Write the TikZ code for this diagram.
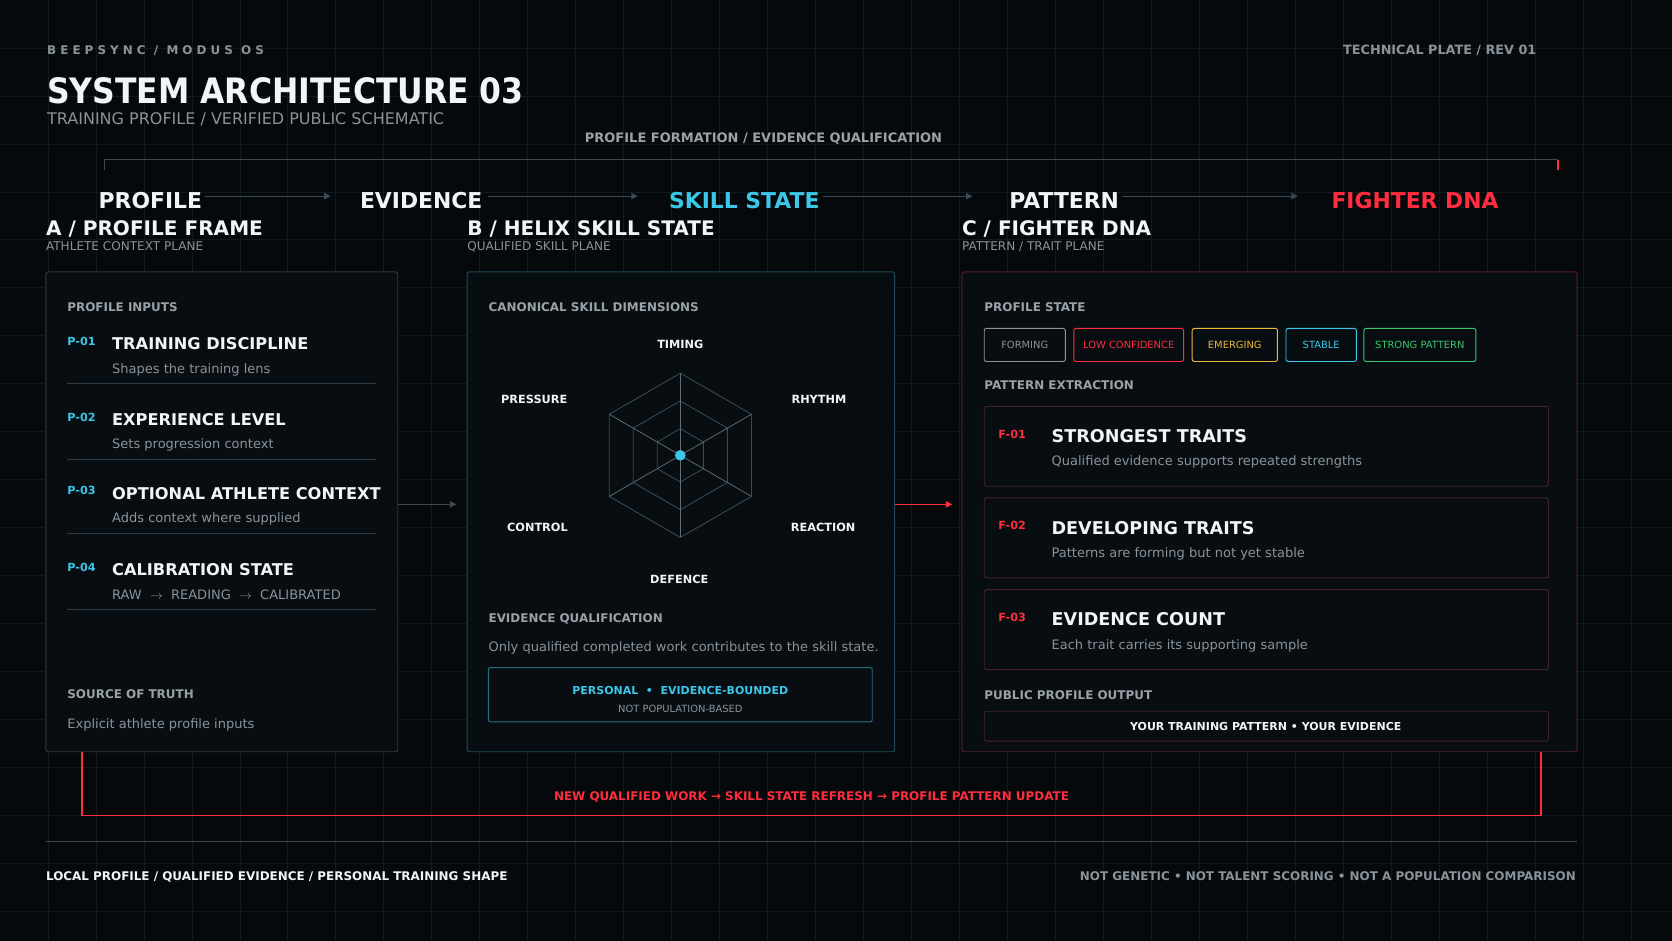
\documentclass[tikz,border=0pt]{standalone}
\usepackage{fontspec}
\setmainfont{DejaVu Sans}
\newfontfamily\condf{DejaVu Sans Condensed}
\usetikzlibrary{arrows.meta,calc}
\definecolor{bg}{HTML}{05090C}
\definecolor{gridc}{HTML}{0F1A20}
\definecolor{panel}{HTML}{070D11}
\definecolor{bordA}{HTML}{2C3B45}
\definecolor{bordB}{HTML}{1E4B57}
\definecolor{bordC}{HTML}{5A1E25}
\definecolor{boxC}{HTML}{43222A}
\definecolor{cyanc}{HTML}{3CC6E8}
\definecolor{redc}{HTML}{FF2D3D}
\definecolor{grayt}{HTML}{8A939A}
\definecolor{grayh}{HTML}{9AA2A8}
\definecolor{whitet}{HTML}{F2F4F5}
\definecolor{yelc}{HTML}{E8B83A}
\definecolor{grnc}{HTML}{3CC46A}
\definecolor{linec}{HTML}{3A4A54}
\newcommand{\fs}[1]{\fontsize{#1}{#1}\selectfont}
\begin{document}
\begin{tikzpicture}[x=1pt,y=-1pt,
 lbl/.style={anchor=base west,inner sep=0pt},
 hdr/.style={lbl,font=\fs{11.2}\bfseries,text=grayh},
 stage/.style={anchor=base,inner sep=0pt,font=\fs{20.5}\bfseries,text=whitet},
 sect/.style={lbl,font=\fs{18.8}\bfseries,text=whitet},
 sub/.style={lbl,font=\fs{11.3},text=grayt},
 pid/.style={lbl,font=\fs{10.5}\bfseries,text=cyanc},
 fid/.style={lbl,font=\fs{10.5}\bfseries,text=redc},
 ititle/.style={lbl,font=\fs{15.2}\bfseries,text=whitet},
 idesc/.style={lbl,font=\fs{12.2},text=grayt},
 axis/.style={anchor=base,inner sep=0pt,font=\fs{10.6}\bfseries,text=whitet},
 panelbox/.style={draw,fill=panel,rounded corners=2pt,line width=0.9pt},
 chip/.style={draw,rounded corners=2pt,line width=0.9pt,font=\fs{9.3},anchor=center,inner sep=0pt},
 flow/.style={draw=linec,line width=0.9pt,-{Triangle[length=6pt,width=6pt]}},
]
\fill[bg] (0,0) rectangle (1568,882);
\useasboundingbox (0,0) rectangle (1568,882);
\foreach \i in {45,90,...,1567} \draw[gridc,line width=0.8pt] (\i,0) -- (\i,882);
\foreach \j in {45,90,...,881} \draw[gridc,line width=0.8pt] (0,\j) -- (1568,\j);

% header
\node[lbl,font=\fs{11.2}\bfseries\addfontfeature{LetterSpace=34},text=grayt] (brand) at (44,51) {BEEPSYNC / MODUS OS};
\node[anchor=base east,inner sep=0pt,font=\fs{12}\bfseries,text=grayt] (plate) at (1441,51) {TECHNICAL PLATE / REV 01};
\node[lbl,font=\condf\fs{32.8}\bfseries,text=whitet] (title) at (44,97) {SYSTEM ARCHITECTURE 03};
\node[lbl,font=\fs{15},text=grayt] (subt) at (44,117) {TRAINING PROFILE / VERIFIED PUBLIC SCHEMATIC};
\node[anchor=base,inner sep=0pt,font=\fs{12.2}\bfseries,text=grayh] (pf) at (716,134) {PROFILE FORMATION / EVIDENCE QUALIFICATION};
\coordinate (bl) at (98,159); \coordinate (br) at (1461,159);
\draw[linec,line width=1pt] (bl) |- (1455,150) -- (1461,150);
\draw[redc,line width=1.2pt] (1461,150) -- (br);

% stages
\node[stage] (s1) at (141,196) {PROFILE};
\node[stage] (s2) at (395,196) {EVIDENCE};
\node[stage,text=cyanc] (s3) at (698,196) {SKILL STATE};
\node[stage] (s4) at (998,196) {PATTERN};
\node[stage,text=redc] (s5) at (1327,196) {FIGHTER DNA};
\coordinate (a1) at (192,184); \coordinate (a1e) at (310,184);
\coordinate (a2) at (458,184); \coordinate (a2e) at (598,184);
\coordinate (a3) at (772,184); \coordinate (a3e) at (912,184);
\coordinate (a4) at (1052,184); \coordinate (a4e) at (1217,184);
\draw[flow] (a1) -- (a1e); \draw[flow] (a2) -- (a2e);
\draw[flow] (a3) -- (a3e); \draw[flow] (a4) -- (a4e);

% section titles
\node[sect] (ta) at (43,221) {A / PROFILE FRAME};
\node[sub] (sa) at (43,235) {ATHLETE CONTEXT PLANE};
\node[sect] (tb) at (438,221) {B / HELIX SKILL STATE};
\node[sub] (sb) at (438,235) {QUALIFIED SKILL PLANE};
\node[sect] (tc) at (902,221) {C / FIGHTER DNA};
\node[sub] (sc) at (902,235) {PATTERN / TRAIT PLANE};

% panels
\path[panelbox,draw=bordA] (43,255) rectangle (373,705);
\path[panelbox,draw=bordB] (438,255) rectangle (839,705);
\path[panelbox,draw=bordC] (902,255) rectangle (1479,705);
\coordinate (pa) at (373,473); \coordinate (pb) at (428,473);
\draw[flow] (pa) -- (pb);
\coordinate (pc) at (839,473); \coordinate (pd) at (893,473);
\draw[flow,draw=redc] (pc) -- (pd);

% panel A
\node[hdr] (pi) at (63,292) {PROFILE INPUTS};
\foreach \id/\t/\d/\y in {P-01/TRAINING DISCIPLINE/Shapes the training lens/328,
  P-02/EXPERIENCE LEVEL/Sets progression context/399,
  P-03/OPTIONAL ATHLETE CONTEXT/Adds context where supplied/468,
  P-04/CALIBRATION STATE/{RAW \ $\rightarrow$ \ READING \ $\rightarrow$ \ CALIBRATED}/540}{
  \node[pid] at (63,\y-4) {\id};
  \node[ititle] at (105,\y) {\t};
  \node[idesc] at (105,\y+22) {\d};
  \draw[bordA,line width=0.9pt] (63,\y+32) -- (353,\y+32);
}
\node[hdr] (sot) at (63,655) {SOURCE OF TRUTH};
\node[idesc] (sotd) at (63,683) {Explicit athlete profile inputs};

% panel B
\node[hdr] (csd) at (458,292) {CANONICAL SKILL DIMENSIONS};
\coordinate (hc) at (638,427);
\foreach \r in {77,51,25}
  \draw[linec,line width=0.8pt,shift={(hc)}] (90:\r) -- (30:\r) -- (-30:\r) -- (-90:\r) -- (-150:\r) -- (150:\r) -- cycle;
\foreach \a in {90,30,-30,-90,-150,150} \draw[linec!80,line width=0.7pt] (hc) -- ($(hc)+(\a:77)$);
\fill[cyanc] (hc) circle (5);
\node[axis] (ax1) at (638,327) {TIMING};
\node[axis] (ax2) at (768,378) {RHYTHM};
\node[axis] (ax3) at (772,498) {REACTION};
\node[axis] (ax4) at (637,547) {DEFENCE};
\node[axis] (ax5) at (504,498) {CONTROL};
\node[axis] (ax6) at (501,378) {PRESSURE};
\node[hdr] (eq) at (458,584) {EVIDENCE QUALIFICATION};
\node[idesc] (eqd) at (458,611) {Only qualified completed work contributes to the skill state.};
\draw[bordB!70!cyanc,line width=0.9pt,rounded corners=2pt] (458,626) rectangle (818,677);
\node[anchor=base,inner sep=0pt,font=\fs{10.3}\bfseries,text=cyanc] (pe) at (638,651) {PERSONAL \ • \ EVIDENCE-BOUNDED};
\node[anchor=base,inner sep=0pt,font=\fs{9.3},text=grayt] (npb) at (638,668) {NOT POPULATION-BASED};

% panel C
\node[hdr] (ps) at (923,292) {PROFILE STATE};
\node[chip,draw=grayt,text=grayt,minimum width=76,minimum height=31] (c1) at (961,323.5) {FORMING};
\node[chip,draw=redc,text=redc,minimum width=103,minimum height=31] (c2) at (1058.5,323.5) {LOW CONFIDENCE};
\node[chip,draw=yelc,text=yelc,minimum width=80,minimum height=31] (c3) at (1158,323.5) {EMERGING};
\node[chip,draw=cyanc,text=cyanc,minimum width=66,minimum height=31] (c4) at (1239,323.5) {STABLE};
\node[chip,draw=grnc,text=grnc,minimum width=105,minimum height=31] (c5) at (1331.5,323.5) {STRONG PATTERN};
\node[hdr] (pe2) at (923,365) {PATTERN EXTRACTION};
\foreach \id/\t/\d/\y in {F-01/STRONGEST TRAITS/Qualified evidence supports repeated strengths/381,
  F-02/DEVELOPING TRAITS/Patterns are forming but not yet stable/467,
  F-03/EVIDENCE COUNT/Each trait carries its supporting sample/553}{
  \draw[boxC,line width=0.9pt,rounded corners=2pt] (923,\y) rectangle (1452,\y+75);
  \node[fid] at (936,\y+30) {\id};
  \node[ititle,font=\fs{16.5}\bfseries] at (986,\y+34) {\t};
  \node[idesc] at (986,\y+56) {\d};
}
\node[hdr] (ppo) at (923,656) {PUBLIC PROFILE OUTPUT};
\draw[boxC,line width=0.9pt,rounded corners=2pt] (923,667) rectangle (1452,695);
\node[anchor=base,inner sep=0pt,font=\fs{10.3}\bfseries,text=whitet] (yt) at (1187,685) {YOUR TRAINING PATTERN • YOUR EVIDENCE};

% feedback loop
\coordinate (fl) at (77,705); \coordinate (fr) at (1445,705);
\draw[redc,line width=1.2pt] (fl) |- (1445,765) -- (fr);
\node[anchor=base,inner sep=0pt,font=\fs{11.2}\bfseries,text=redc] (fb) at (761,751) {NEW QUALIFIED WORK → SKILL STATE REFRESH → PROFILE PATTERN UPDATE};

% footer
\draw[linec,line width=0.9pt] (43,789) -- (1479,789);
\node[lbl,font=\fs{11.2}\bfseries,text=whitet] (fl1) at (43,826) {LOCAL PROFILE / QUALIFIED EVIDENCE / PERSONAL TRAINING SHAPE};
\node[anchor=base east,inner sep=0pt,font=\fs{11.2}\bfseries,text=grayt] (fr1) at (1478,826) {NOT GENETIC • NOT TALENT SCORING • NOT A POPULATION COMPARISON};
\end{tikzpicture}
\end{document}
